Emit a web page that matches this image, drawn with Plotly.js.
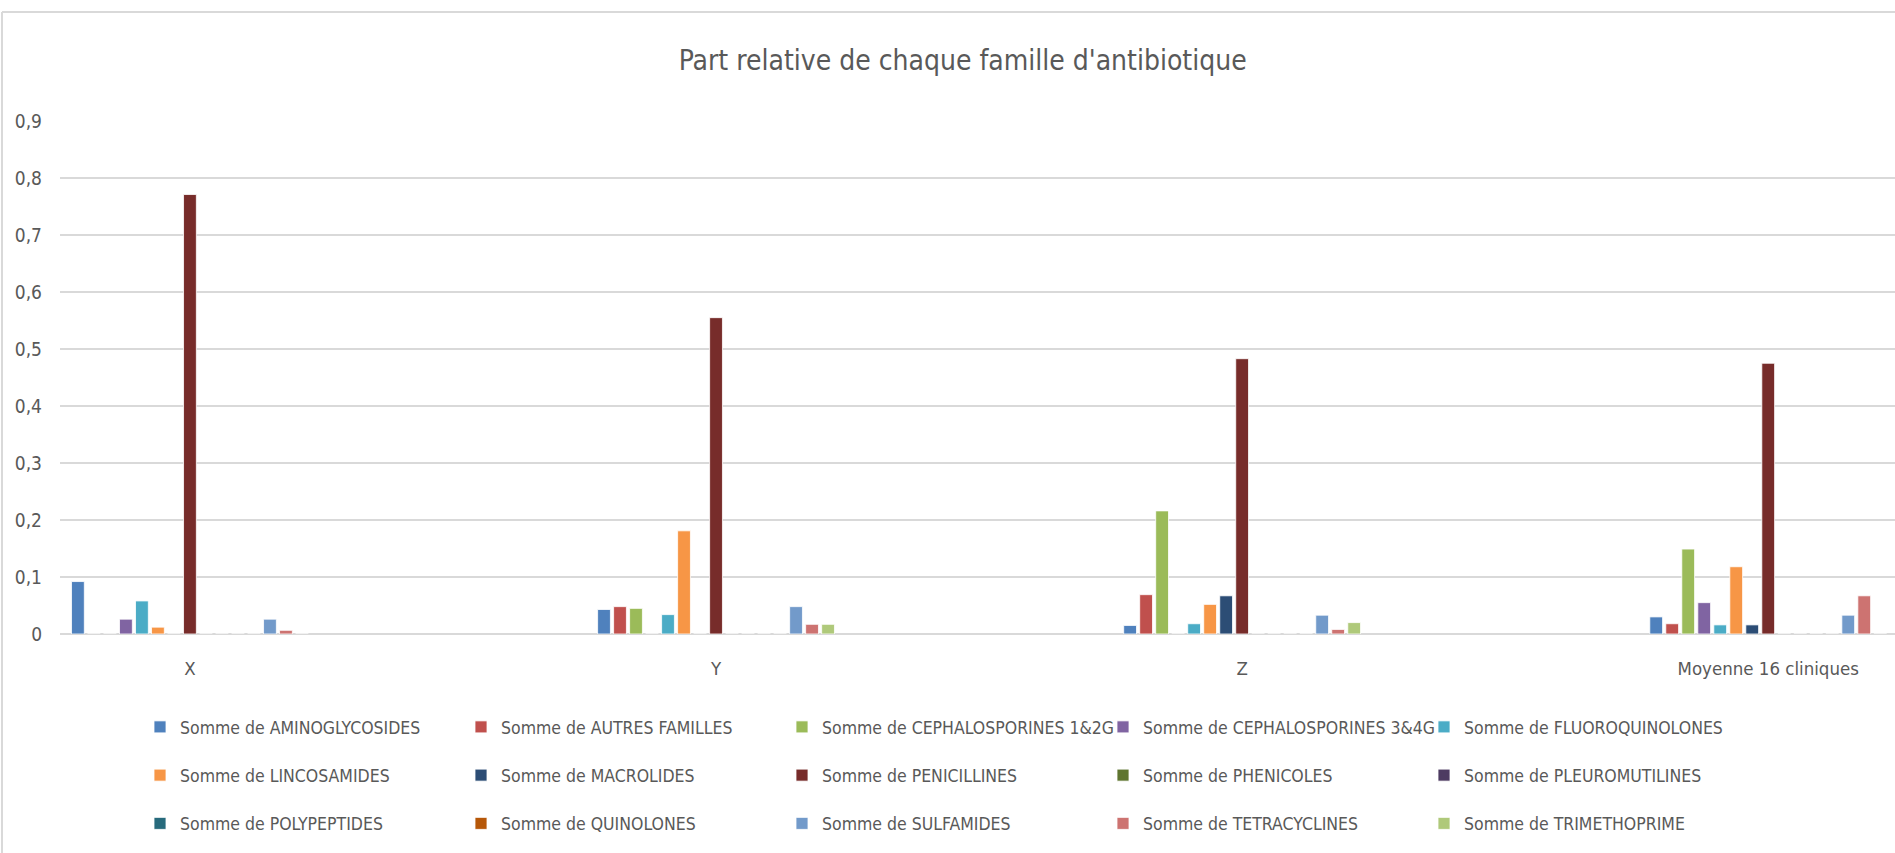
<!DOCTYPE html>
<html>
<head>
<meta charset="utf-8">
<script src="https://cdn.plot.ly/plotly-3.0.1.min.js"></script>
<style>
html,body{margin:0;padding:0;background:#fff;}
#chart{width:1895px;height:853px;}
</style>
</head>
<body>
<div id="chart"></div>
<script>
const categories = ["X", "Y", "Z", "Moyenne 16 cliniques"];

const AMINOGLYCOSIDES       = [0.092, 0.043, 0.015, 0.030];
const AUTRES_FAMILLES       = [0,     0.048, 0.069, 0.018];
const CEPHALOSPORINES_1_2G  = [0,     0.045, 0.216, 0.149];
const CEPHALOSPORINES_3_4G  = [0.026, 0,     0,     0.055];
const FLUOROQUINOLONES      = [0.058, 0.034, 0.018, 0.016];
const LINCOSAMIDES          = [0.012, 0.181, 0.052, 0.118];
const MACROLIDES            = [0,     0,     0.067, 0.016];
const PENICILLINES          = [0.771, 0.555, 0.483, 0.475];
const PHENICOLES            = [0,     0,     0,     0];
const PLEUROMUTILINES       = [0,     0,     0,     0];
const POLYPEPTIDES          = [0,     0,     0,     0];
const QUINOLONES            = [0,     0,     0,     0];
const SULFAMIDES            = [0.026, 0.048, 0.033, 0.033];
const TETRACYCLINES         = [0.0065,0.017, 0.008, 0.067];
const TRIMETHOPRIME         = [0,     0.017, 0.020, 0];

const seriesNames = [
  "Somme de AMINOGLYCOSIDES", "Somme de AUTRES FAMILLES", "Somme de CEPHALOSPORINES 1&2G",
  "Somme de CEPHALOSPORINES 3&4G", "Somme de FLUOROQUINOLONES", "Somme de LINCOSAMIDES",
  "Somme de MACROLIDES", "Somme de PENICILLINES", "Somme de PHENICOLES",
  "Somme de PLEUROMUTILINES", "Somme de POLYPEPTIDES", "Somme de QUINOLONES",
  "Somme de SULFAMIDES", "Somme de TETRACYCLINES", "Somme de TRIMETHOPRIME"
];
const seriesValues = [
  AMINOGLYCOSIDES, AUTRES_FAMILLES, CEPHALOSPORINES_1_2G, CEPHALOSPORINES_3_4G,
  FLUOROQUINOLONES, LINCOSAMIDES, MACROLIDES, PENICILLINES, PHENICOLES,
  PLEUROMUTILINES, POLYPEPTIDES, QUINOLONES, SULFAMIDES, TETRACYCLINES, TRIMETHOPRIME
];
const seriesColors = [
  "#4F81BD", "#C0504D", "#9BBB59", "#8064A2", "#4BACC6", "#F79646", "#2C4D75",
  "#772C2A", "#5F7530", "#4D3B62", "#276A7C", "#B65708", "#729ACA", "#CD7371", "#AFC97A"
];

const FONT = "'DejaVu Sans Condensed', 'DejaVu Sans', sans-serif";
const GREY = "#595959";

// plot-area geometry (pixels)
const W = 1895, H = 853;
const ML = 60, MR = 0, MT = 121, MB = 219;
const PW = W - ML - MR, PH = H - MT - MB;
const px2x = p => (p - ML) / PW;
const py2y = p => (H - MB - p) / PH;

const NCOL = 5;
const traces = seriesNames.map((name, i) => {
  const col = i % NCOL;
  return {
    type: "bar",
    name: name,
    x: categories,
    y: seriesValues[i],
    legend: col === 0 ? "legend" : "legend" + (col + 1),
    legendgroup: "g" + i,
    marker: { color: seriesColors[i], line: { color: "#ffffff", width: 0.8 } },
    hoverinfo: "name+y"
  };
});

function legendAt(col) {
  return {
    orientation: "v",
    traceorder: "grouped",
    tracegroupgap: 22.5,
    x: px2x(140 + 321 * col),
    xanchor: "left",
    y: py2y(709),
    yanchor: "top",
    itemwidth: 30,
    font: { family: FONT, size: 17.5, color: GREY },
    bgcolor: "rgba(0,0,0,0)",
    borderwidth: 0
  };
}

const layout = {
  width: W,
  height: H,
  paper_bgcolor: "#ffffff",
  plot_bgcolor: "#ffffff",
  separators: ", ",
  font: { family: FONT, color: GREY, size: 18 },
  margin: { l: ML, r: MR, t: MT, b: MB, pad: 0 },
  title: {
    text: "Part relative de chaque famille d'antibiotique",
    font: { family: FONT, size: 28, color: GREY },
    x: 0.508, xanchor: "center",
    y: 1 - 60 / H, yanchor: "middle"
  },
  barmode: "group",
  bargap: 0.5437,
  bargroupgap: 0.2,
  xaxis: {
    type: "category",
    range: [-0.247, 3.241],
    showgrid: false,
    zeroline: false,
    showline: false,
    ticks: "",
    ticklabelstandoff: 21,
    tickfont: { family: FONT, size: 18.5, color: GREY },
    fixedrange: true
  },
  yaxis: {
    range: [0, 0.9],
    dtick: 0.1,
    tick0: 0,
    showgrid: true,
    gridcolor: "#d9d9d9",
    gridwidth: 1.8,
    zeroline: true,
    zerolinecolor: "#d9d9d9",
    zerolinewidth: 1.8,
    showline: false,
    ticks: "",
    ticklabelstandoff: 17,
    tickfont: { family: FONT, size: 19, color: GREY },
    fixedrange: true
  },
  legend: legendAt(0),
  legend2: legendAt(1),
  legend3: legendAt(2),
  legend4: legendAt(3),
  legend5: legendAt(4),
  shapes: [
    { type: "line", xref: "paper", yref: "paper",
      x0: px2x(2), x1: px2x(W + 10), y0: py2y(12), y1: py2y(12),
      line: { color: "#d9d9d9", width: 2 } },
    { type: "line", xref: "paper", yref: "paper",
      x0: px2x(2), x1: px2x(2), y0: py2y(12), y1: py2y(H + 10),
      line: { color: "#d9d9d9", width: 2 } }
  ],
  showlegend: true
};

Plotly.newPlot("chart", traces, layout, { displayModeBar: false, staticPlot: true });
</script>
</body>
</html>
